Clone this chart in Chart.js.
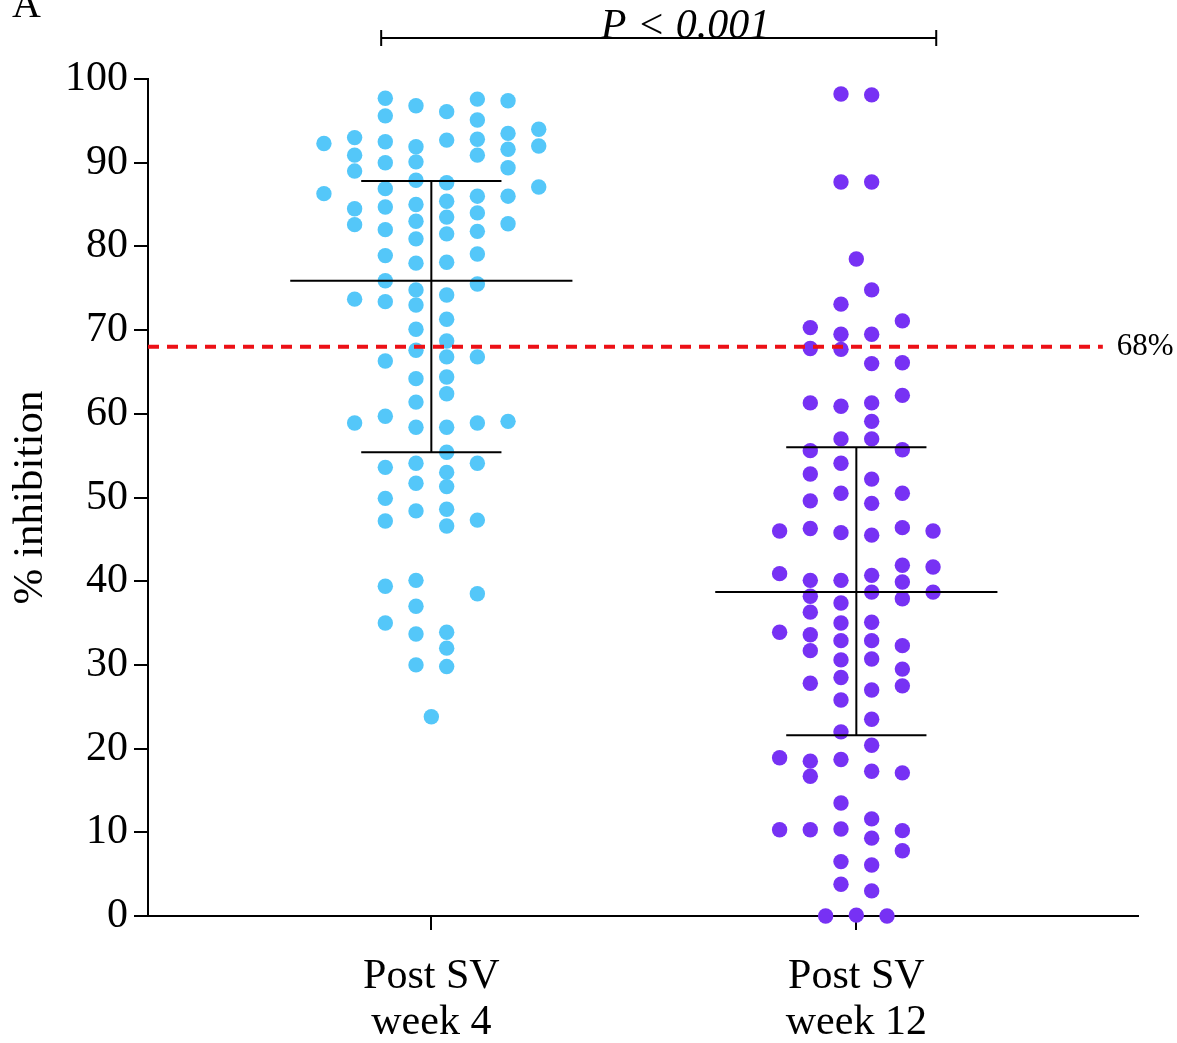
<!DOCTYPE html>
<html>
<head>
<meta charset="utf-8">
<script src="https://cdn.jsdelivr.net/npm/chart.js@4.4.1/dist/chart.umd.min.js"></script>
<style>
  html, body { margin: 0; padding: 0; background: #fff; }
  canvas { display: block; }
</style>
</head>
<body>
<canvas id="c" width="1177" height="1043"></canvas>
<script>
// groups on the x axis
const groupLabels = [['Post SV', 'week 4'], ['Post SV', 'week 12']];

// % inhibition per subject, listed lane by lane (left to right)
const week4Values = [
  92.3, 86.3,
  93.0, 90.9, 89.0, 84.5, 82.6, 73.7, 58.9,
  97.7, 95.6, 92.5, 90.0, 86.9, 84.7, 82.0, 78.9, 75.9, 73.4, 66.3, 59.7, 53.6, 49.9, 47.2, 39.4, 35.0,
  96.8, 91.9, 90.1, 87.9, 85.0, 83.0, 80.9, 78.0, 74.8, 73.0, 70.1, 67.6, 64.2, 61.4, 58.4, 54.1, 51.7, 48.4, 40.1, 37.0, 33.7, 30.0,
  23.8,
  96.1, 92.7, 87.6, 85.4, 83.5, 81.5, 78.1, 74.2, 71.3, 68.7, 66.8, 64.4, 62.4, 58.4, 55.4, 53.0, 51.3, 48.6, 46.6, 33.9, 32.0, 29.8,
  97.6, 95.1, 92.8, 90.9, 86.0, 84.0, 81.8, 79.1, 75.5, 66.8, 58.9, 54.1, 47.3, 38.5,
  97.4, 93.5, 91.6, 89.4, 86.0, 82.7, 59.1,
  94.0, 92.0, 87.1,
];
// swarm lane of each week-4 point (0 = on the group centre)
const week4Lanes = [
  -3.5, -3.5,
  -2.5, -2.5, -2.5, -2.5, -2.5, -2.5, -2.5,
  -1.5, -1.5, -1.5, -1.5, -1.5, -1.5, -1.5, -1.5, -1.5, -1.5, -1.5, -1.5, -1.5, -1.5, -1.5, -1.5, -1.5,
  -0.5, -0.5, -0.5, -0.5, -0.5, -0.5, -0.5, -0.5, -0.5, -0.5, -0.5, -0.5, -0.5, -0.5, -0.5, -0.5, -0.5, -0.5, -0.5, -0.5, -0.5, -0.5,
  0,
  0.5, 0.5, 0.5, 0.5, 0.5, 0.5, 0.5, 0.5, 0.5, 0.5, 0.5, 0.5, 0.5, 0.5, 0.5, 0.5, 0.5, 0.5, 0.5, 0.5, 0.5, 0.5,
  1.5, 1.5, 1.5, 1.5, 1.5, 1.5, 1.5, 1.5, 1.5, 1.5, 1.5, 1.5, 1.5, 1.5,
  2.5, 2.5, 2.5, 2.5, 2.5, 2.5, 2.5,
  3.5, 3.5, 3.5,
];

const week12Values = [
  46.0, 40.9, 33.9, 18.9, 10.3,
  70.3, 67.8, 61.3, 55.6, 52.8, 49.6, 46.3, 40.1, 38.2, 36.3, 33.6, 31.7, 27.8, 18.5, 16.7, 10.3,
  0,
  98.2, 87.7, 73.1, 69.5, 67.7, 60.9, 57.0, 54.1, 50.5, 45.8, 40.1, 37.4, 35.0, 32.9, 30.6, 28.5, 25.8, 22.0, 18.7, 13.5, 10.4, 6.5, 3.8,
  78.5, 0.1,
  98.1, 87.7, 74.8, 69.5, 66.0, 61.3, 59.1, 57.0, 52.2, 49.3, 45.5, 40.7, 38.7, 35.1, 32.9, 30.7, 27.0, 23.5, 20.4, 17.3, 11.6, 9.3, 6.1, 3.0,
  0,
  71.1, 66.1, 62.2, 55.7, 50.5, 46.4, 41.9, 39.9, 37.9, 32.3, 29.5, 27.5, 17.1, 10.2, 7.8,
  46.0, 41.7, 38.7,
];
const week12Lanes = [
  -2.5, -2.5, -2.5, -2.5, -2.5,
  -1.5, -1.5, -1.5, -1.5, -1.5, -1.5, -1.5, -1.5, -1.5, -1.5, -1.5, -1.5, -1.5, -1.5, -1.5, -1.5,
  -1,
  -0.5, -0.5, -0.5, -0.5, -0.5, -0.5, -0.5, -0.5, -0.5, -0.5, -0.5, -0.5, -0.5, -0.5, -0.5, -0.5, -0.5, -0.5, -0.5, -0.5, -0.5, -0.5, -0.5,
  0, 0,
  0.5, 0.5, 0.5, 0.5, 0.5, 0.5, 0.5, 0.5, 0.5, 0.5, 0.5, 0.5, 0.5, 0.5, 0.5, 0.5, 0.5, 0.5, 0.5, 0.5, 0.5, 0.5, 0.5, 0.5,
  1,
  1.5, 1.5, 1.5, 1.5, 1.5, 1.5, 1.5, 1.5, 1.5, 1.5, 1.5, 1.5, 1.5, 1.5, 1.5,
  2.5, 2.5, 2.5,
];

// centre line and error bar ends per group
const centreValues = [75.9, 38.7];
const upperValues = [87.8, 56.0];
const lowerValues = [55.4, 21.6];

const threshold = 68;
const thresholdLabel = '68%';
const pLabel = 'P < 0.001';

const LANE = 0.0722;      // one swarm lane in x units
const CENTRE_HALF = 0.332;
const CAP_HALF = 0.165;
const X_MIN = 1 / 3, X_MAX = X_MIN + 990 / 425;

const swarm = (vals, lanes, c) => vals.map((v, i) => ({ x: c + lanes[i] * LANE, y: v }));

function summaryLines() {
  const pts = [];
  centreValues.forEach((m, i) => {
    const c = i + 1;
    pts.push({ x: c - CENTRE_HALF, y: m }, { x: c + CENTRE_HALF, y: m }, { x: c, y: null });
    pts.push({ x: c - CAP_HALF, y: upperValues[i] }, { x: c + CAP_HALF, y: upperValues[i] }, { x: c, y: null });
    pts.push({ x: c - CAP_HALF, y: lowerValues[i] }, { x: c + CAP_HALF, y: lowerValues[i] }, { x: c, y: null });
    pts.push({ x: c, y: upperValues[i] }, { x: c, y: lowerValues[i] }, { x: c, y: null });
  });
  return pts;
}

Chart.defaults.font.family = '"Liberation Serif", "Times New Roman", serif';
Chart.defaults.color = '#000';

const extras = {
  id: 'extras',
  afterDraw(chart) {
    const { ctx, chartArea, scales: { x, y } } = chart;
    ctx.save();
    ctx.fillStyle = '#000';
    ctx.strokeStyle = '#000';

    // panel letter
    ctx.font = '40px "Liberation Serif"';
    ctx.textAlign = 'left';
    ctx.textBaseline = 'alphabetic';
    ctx.fillText('A', 12, 17);

    // significance bracket
    const bx1 = x.getPixelForValue(0.882), bx2 = x.getPixelForValue(2.188);
    const by = chartArea.top - 41;
    ctx.lineWidth = 2;
    ctx.beginPath();
    ctx.moveTo(bx1, by); ctx.lineTo(bx2, by);
    ctx.moveTo(bx1, by - 8); ctx.lineTo(bx1, by + 8);
    ctx.moveTo(bx2, by - 8); ctx.lineTo(bx2, by + 8);
    ctx.stroke();
    ctx.font = 'italic 42px "Liberation Serif"';
    ctx.textAlign = 'center';
    ctx.fillText(pLabel, x.getPixelForValue(1.598), by);

    // threshold label
    ctx.font = '31px "Liberation Serif"';
    ctx.textAlign = 'left';
    ctx.textBaseline = 'middle';
    ctx.fillText(thresholdLabel, x.getPixelForValue(2.58) + 14, y.getPixelForValue(threshold));
    ctx.restore();
  }
};

new Chart(document.getElementById('c'), {
  type: 'scatter',
  data: {
    datasets: [
      {
        data: [{ x: X_MIN, y: threshold }, { x: 2.58, y: threshold }],
        showLine: true, borderColor: '#EC1016', borderWidth: 4, borderDash: [11, 8],
        pointRadius: 0, clip: false, order: 0,
      },
      {
        data: summaryLines(),
        showLine: true, spanGaps: false, borderColor: '#000', borderWidth: 2,
        pointRadius: 0, order: 1,
      },
      {
        data: swarm(week4Values, week4Lanes, 1),
        backgroundColor: '#54C7F9', borderWidth: 0, pointRadius: 7.7, clip: false, order: 2,
      },
      {
        data: swarm(week12Values, week12Lanes, 2),
        backgroundColor: '#7731F4', borderWidth: 0, pointRadius: 7.7, clip: false, order: 2,
      },
    ],
  },
  options: {
    responsive: false,
    animation: false,
    devicePixelRatio: 1,
    layout: { padding: { top: 79, right: 39, left: 0, bottom: 0 } },
    plugins: { legend: { display: false }, tooltip: { enabled: false } },
    scales: {
      x: {
        type: 'linear', min: X_MIN, max: X_MAX,
        afterBuildTicks: (s) => { s.ticks = [{ value: 1 }, { value: 2 }]; },
        afterFit: (s) => { s.height = 127; },
        ticks: {
          callback: (v) => groupLabels[v - 1],
          font: { size: 42, lineHeight: 1.1 }, padding: 24, maxRotation: 0, autoSkip: false,
        },
        grid: { drawOnChartArea: false, drawTicks: true, tickLength: 14, color: '#000', lineWidth: 2 },
        border: { color: '#000', width: 2 },
      },
      y: {
        min: 0, max: 100,
        afterFit: (s) => { s.width = 148; },
        ticks: { stepSize: 10, font: { size: 42 }, padding: 6 },
        grid: { drawOnChartArea: false, drawTicks: true, tickLength: 14, color: '#000', lineWidth: 2 },
        border: { color: '#000', width: 2 },
        title: { display: true, text: '% inhibition', font: { size: 43 }, padding: { top: 5, bottom: 0 } },
      },
    },
  },
  plugins: [extras],
});
</script>
</body>
</html>
